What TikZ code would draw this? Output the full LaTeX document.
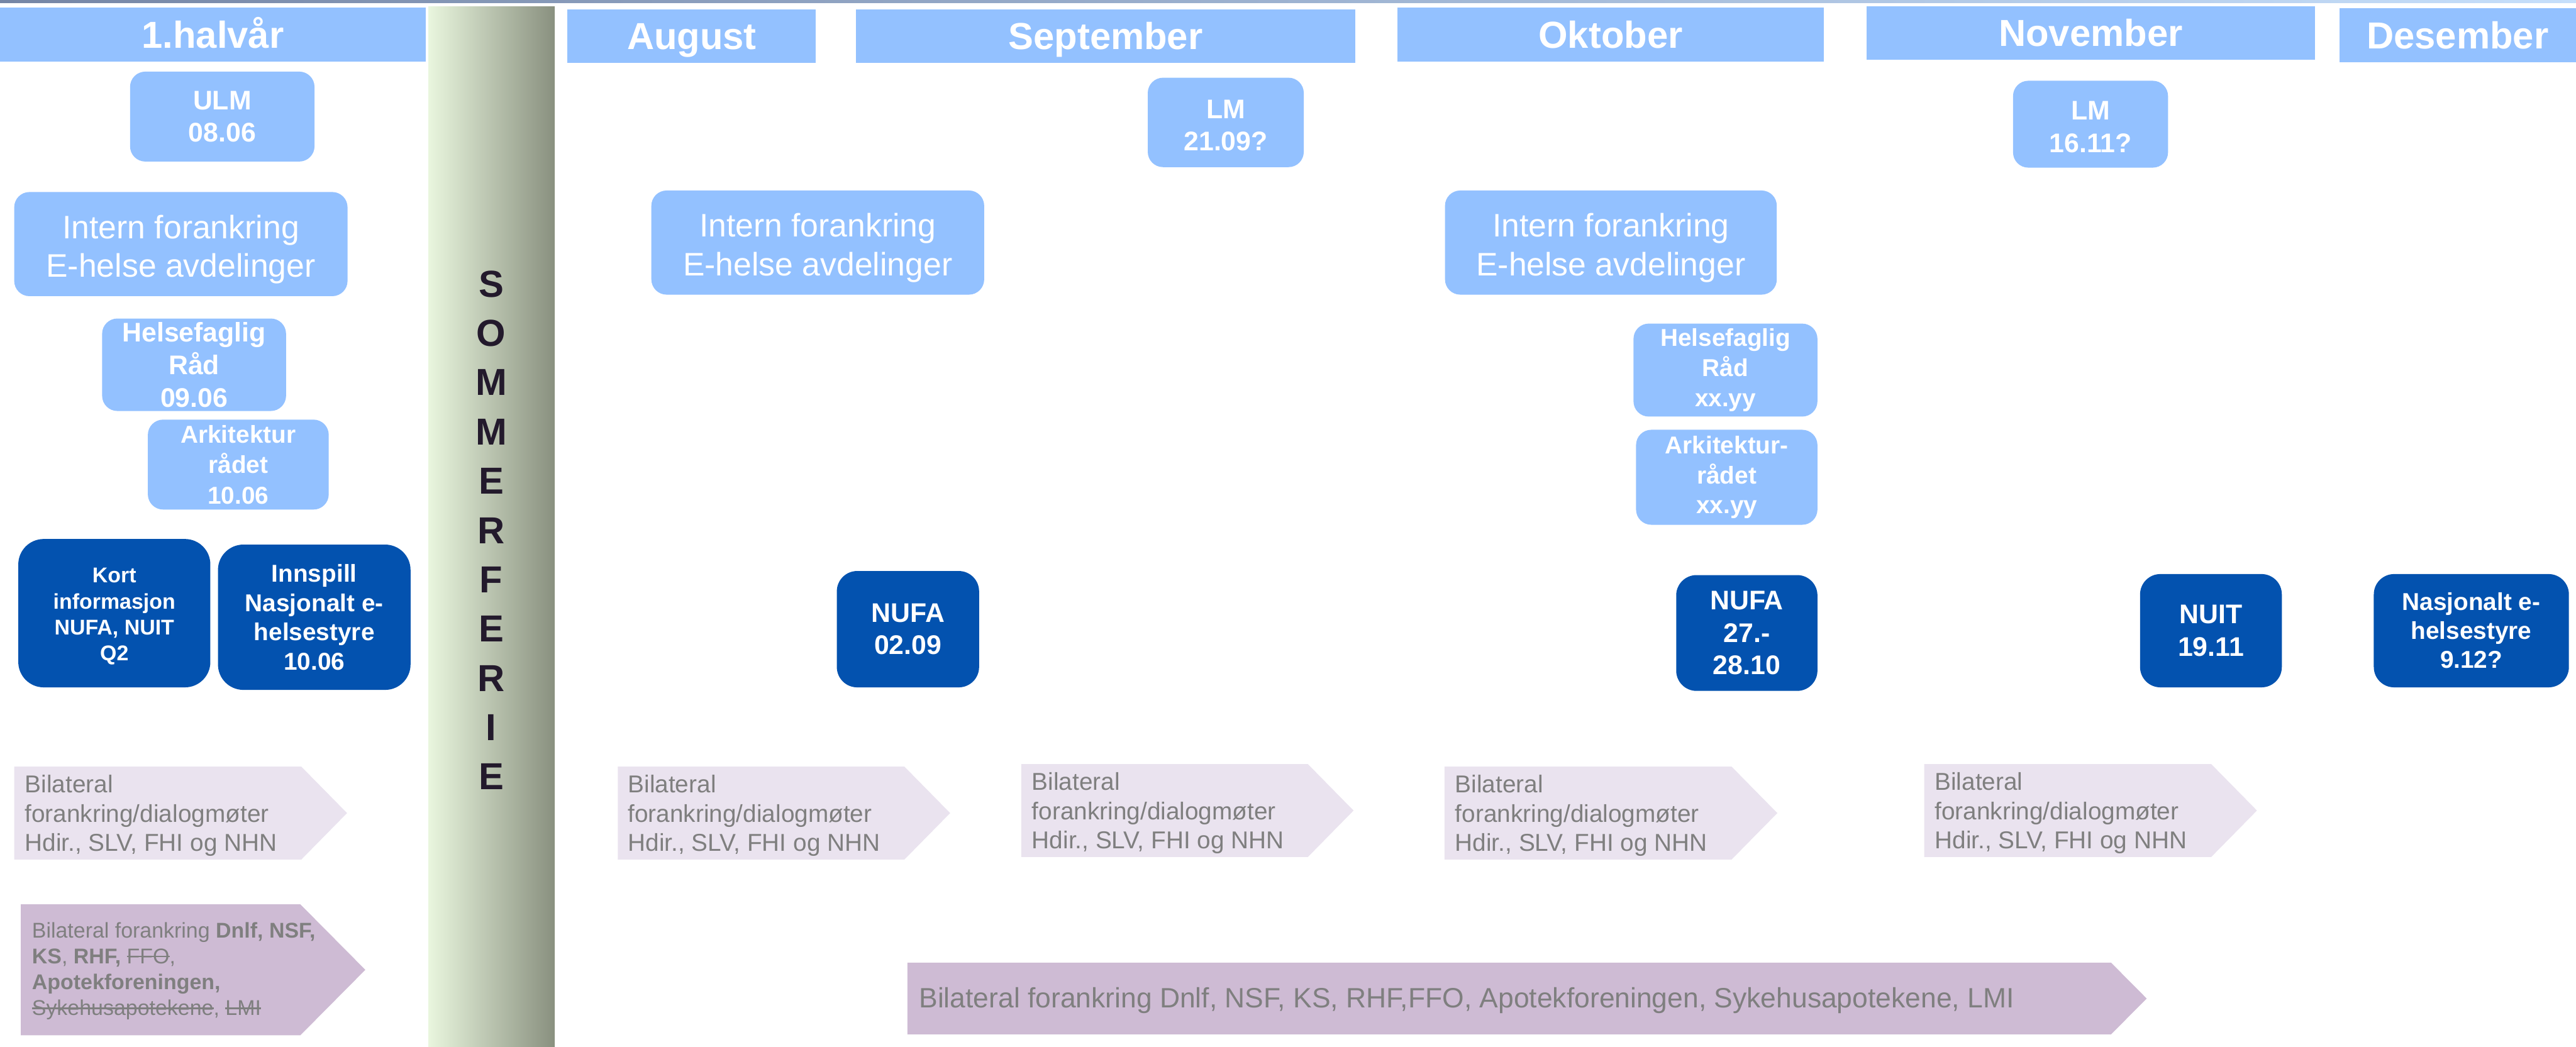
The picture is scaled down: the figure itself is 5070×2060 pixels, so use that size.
\documentclass[tikz,border=0pt]{standalone}
\usepackage{fontspec}
\setmainfont{Liberation Sans}
\definecolor{lblue}{RGB}{147,193,255}
\definecolor{dblue}{RGB}{3,82,175}
\definecolor{lav}{RGB}{234,227,239}
\definecolor{purp}{RGB}{206,187,212}
\definecolor{gtext}{RGB}{127,127,127}
\definecolor{somtxt}{RGB}{35,26,44}
\definecolor{gradL}{RGB}{233,246,222}
\definecolor{gradR}{RGB}{137,144,127}
\definecolor{topL}{RGB}{117,134,166}
\definecolor{topR}{RGB}{198,223,251}
\newsavebox\strkbox
\newcommand\strk[1]{\sbox\strkbox{#1}\rlap{\rule[0.3em]{\wd\strkbox}{0.07em}}\usebox\strkbox}
\newcommand\fsz[2]{\fontsize{#1}{#2}\selectfont}
\newcommand\arrowshape[6]{\fill[#1] (#2,#5) -- (#3,#5) -- (#4,{(#5+#6)/2}) -- (#3,#6) -- (#2,#6) -- cycle;}
\newcommand\tstrut[1]{\rule{0pt}{#1}}
\begin{document}
\begin{tikzpicture}[x=0.2pt,y=-0.2pt,
  bw/.style={minimum width=#1*0.2pt},
  bh/.style={minimum height=#1*0.2pt},
  hdr/.style={fill=lblue, inner sep=0pt, outer sep=0pt, text=white, font=\fsz{14.8pt}{17pt}\bfseries, text height=10.6pt, text depth=0pt},
  lbox/.style={fill=lblue, rounded corners=6pt, inner sep=0pt, outer sep=0pt, text=white, align=center},
  dbox/.style={fill=dblue, rounded corners=8pt, inner sep=0pt, outer sep=0pt, text=white, align=center},
  bil/.style={text=gtext, align=left, inner sep=0pt, anchor=west, font=\fsz{9.6pt}{11.6pt}},
  som/.style={text=somtxt, font=\fsz{14.8pt}{17pt}\bfseries, text height=10.6pt, text depth=0pt, inner sep=0pt},
  fbig/.style={font=\fsz{10.6pt}{12.8pt}\bfseries},
  fint/.style={font=\fsz{12.8pt}{15.2pt}},
]
\useasboundingbox (0,0) rectangle (5070,2060);
\fill[white] (0,0) rectangle (5070,2060);
% top line
\shade[left color=topL, right color=topR] (0,0) rectangle (5070,6);
% summer break bar
\shade[left color=gradL, right color=gradR] (843,13) rectangle (1092,2060);
\foreach \l [count=\i] in {S,O,M,M,E,R,F,E,R,I,E}
  \node[som] (som\i) at (967,{558+97*(\i-1)}) {\l};
% headers
\node[hdr,bw=838,bh=106] (h1) at (419,68) {1.halvår};
\node[hdr,bw=489,bh=106] (aug) at (1361.5,71) {August};
\node[hdr,bw=982,bh=106] (sep) at (2176,71) {September};
\node[hdr,bw=840,bh=106] (okt) at (3170,68) {Oktober};
\node[hdr,bw=882,bh=106] (nov) at (4115,65) {November};
\node[hdr,bw=466,bh=106] (des) at (4837,69) {Desember};
% light boxes
\node[lbox,fbig,bw=363,bh=177] (ulm) at (437.5,229.5) {ULM\\08.06};
\node[lbox,fint,bw=656,bh=205] (int1) at (356,480.5) {\tstrut{13.4pt}Intern forankring\\E-helse avdelinger};
\node[lbox,fbig,bw=362,bh=182] (hr1) at (382,718) {Helsefaglig\\Råd\\09.06};
\node[lbox,bw=356,bh=177,font=\fsz{9.6pt}{12pt}\bfseries] (ar1) at (469,914.5) {Arkitektur\\rådet\\10.06};
\node[lbox,fint,bw=655,bh=205] (int2) at (1609.5,477.5) {\tstrut{13.4pt}Intern forankring\\E-helse avdelinger};
\node[lbox,fbig,bw=307,bh=176] (lm1) at (2412.5,241) {\tstrut{9.6pt}LM\\21.09?};
\node[lbox,fint,bw=653,bh=205] (int3) at (3170.5,477.5) {\tstrut{13.4pt}Intern forankring\\E-helse avdelinger};
\node[lbox,bw=362,bh=183,font=\fsz{9.6pt}{11.8pt}\bfseries] (hr2) at (3396,728.5) {Helsefaglig\\Råd\\xx.yy};
\node[lbox,bw=357,bh=187,font=\fsz{9.6pt}{11.8pt}\bfseries] (ar2) at (3398.5,939.5) {Arkitektur-\\rådet\\xx.yy};
\node[lbox,fbig,bw=305,bh=171] (lm2) at (4114.5,244.5) {\tstrut{9.6pt}LM\\16.11?};
% dark boxes
\node[dbox,bw=378,bh=292,rounded corners=10pt,font=\fsz{8.4pt}{10.2pt}\bfseries] (kort) at (225,1207) {\tstrut{8.4pt}Kort\\informasjon\\NUFA, NUIT\\Q2};
\node[dbox,bw=379,bh=286,rounded corners=10pt,font=\fsz{9.6pt}{11.5pt}\bfseries] (innsp) at (618.5,1215) {Innspill\\Nasjonalt e-\\helsestyre\\10.06};
\node[dbox,fbig,bw=280,bh=229] (nufa1) at (1787,1238.5) {NUFA\\02.09};
\node[dbox,fbig,bw=278,bh=228] (nufa2) at (3438,1246) {NUFA\\27.-\\28.10};
\node[dbox,fbig,bw=279,bh=223] (nuit) at (4351.5,1241.5) {NUIT\\19.11};
\node[dbox,bw=384,bh=223,font=\fsz{9.6pt}{11.4pt}\bfseries] (nasj) at (4864,1241.5) {Nasjonalt e-\\helsestyre\\9.12?};
% bilateral arrows
\arrowshape{lav}{28}{593}{683}{1509}{1692}
\arrowshape{lav}{1216}{1780}{1870}{1509}{1692}
\arrowshape{lav}{2010}{2574}{2664}{1504}{1687}
\arrowshape{lav}{2843}{3408}{3498}{1509}{1692}
\arrowshape{lav}{3787}{4352}{4442}{1504}{1687}
\node[bil] (b1) at (48,1605.5) {Bilateral\\forankring/dialogmøter\\Hdir., SLV, FHI og NHN};
\node[bil] (b2) at (1235,1605.5) {Bilateral\\forankring/dialogmøter\\Hdir., SLV, FHI og NHN};
\node[bil] (b3) at (2030,1600.5) {Bilateral\\forankring/dialogmøter\\Hdir., SLV, FHI og NHN};
\node[bil] (b4) at (2863,1605.5) {Bilateral\\forankring/dialogmøter\\Hdir., SLV, FHI og NHN};
\node[bil] (b5) at (3807,1600.5) {Bilateral\\forankring/dialogmøter\\Hdir., SLV, FHI og NHN};
% purple arrows
\arrowshape{purp}{41}{591}{719}{1780}{2038}
\node[anchor=west, inner sep=0pt, align=left, text=gtext, font=\fsz{8.4pt}{10.2pt}] (p1t) at (62,1911.5)
  {Bilateral forankring \textbf{Dnlf, NSF,}\\\textbf{KS}, \textbf{RHF,} \strk{FFO},\\\textbf{Apotekforeningen,}\\\strk{Sykehusapotekene}, \strk{LMI}};
\arrowshape{purp}{1786}{4155}{4225}{1895}{2036}
\node[anchor=base west, inner sep=0pt, text=gtext, font=\fsz{11pt}{13pt}] (p2t) at (1808,1984)
  {Bilateral forankring Dnlf, NSF, KS, RHF,FFO, Apotekforeningen, Sykehusapotekene, LMI};
\end{tikzpicture}
\end{document}
